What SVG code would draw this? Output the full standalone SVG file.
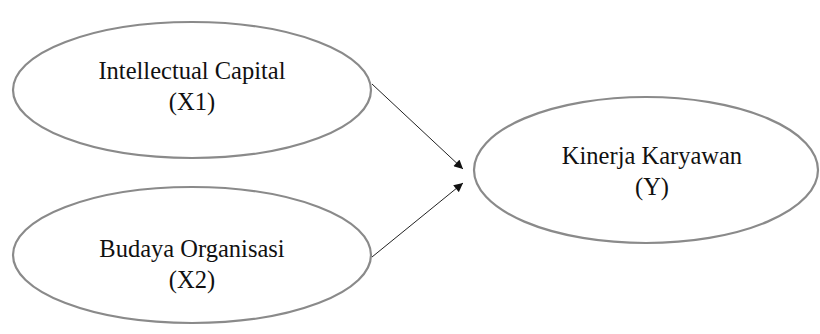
<svg xmlns="http://www.w3.org/2000/svg" width="820" height="334" viewBox="0 0 820 334">
<defs>
<marker id="ah" viewBox="0 0 10 10" refX="10" refY="5" markerWidth="10" markerHeight="9" markerUnits="userSpaceOnUse" orient="auto">
<path d="M0,0 L10,5 L0,10 z" fill="#111"/>
</marker>
<style>
.node ellipse{fill:#fff;stroke:#8a8a8a;stroke-width:2.2}
.node text{font-family:"Liberation Serif","Times New Roman",serif;font-size:24.5px;fill:#111;text-anchor:middle}
.conn line{stroke:#222;stroke-width:1}
</style>
</defs>
<rect width="820" height="334" fill="#fff"/>
<g id="n1" class="node">
<ellipse cx="192" cy="90" rx="179" ry="68"/>
<text x="192" y="79">Intellectual Capital</text>
<text x="192" y="110">(X1)</text>
</g>
<g id="n2" class="node">
<ellipse cx="192" cy="255" rx="179" ry="68"/>
<text x="192" y="257">Budaya Organisasi</text>
<text x="192" y="288">(X2)</text>
</g>
<g id="n3" class="node">
<ellipse cx="646" cy="170" rx="172" ry="73"/>
<text x="652" y="164">Kinerja Karyawan</text>
<text x="652" y="195">(Y)</text>
</g>
<g id="connectors" class="conn">
<line x1="372" y1="84" x2="463" y2="169" marker-end="url(#ah)"/>
<line x1="372" y1="257" x2="463" y2="183" marker-end="url(#ah)"/>
</g>
</svg>
